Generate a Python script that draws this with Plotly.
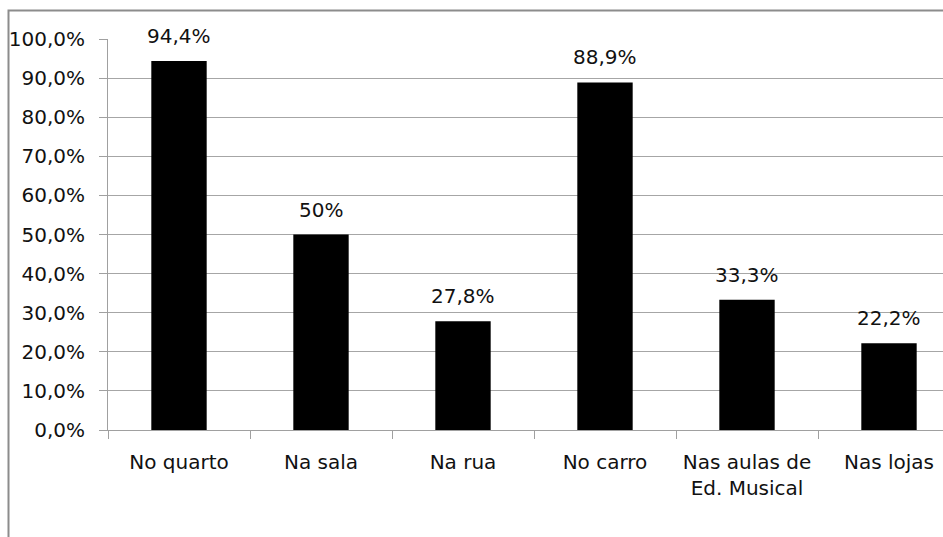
import plotly.graph_objects as go

# Where students listen to music (percent of respondents)
categories = ["No quarto", "Na sala", "Na rua", "No carro",
              "Nas aulas de<br>Ed. Musical", "Nas lojas"]
values = [94.4, 50, 27.8, 88.9, 33.3, 22.2]
value_labels = ["94,4%", "50%", "27,8%", "88,9%", "33,3%", "22,2%"]
y_ticks = [0, 10, 20, 30, 40, 50, 60, 70, 80, 90, 100]
y_tick_labels = ["0,0%", "10,0%", "20,0%", "30,0%", "40,0%", "50,0%",
                 "60,0%", "70,0%", "80,0%", "90,0%", "100,0%"]

W, H = 943, 537
ML, MR, MT, MB = 108, 0, 39, 107
plot_w = W - ML - MR
plot_h = H - MT - MB
cat_px = 142.0

font_family = "DejaVu Sans"
fsize = 20

fig = go.Figure(go.Bar(
    x=categories,
    y=values,
    marker=dict(color="black", line=dict(width=0)),
    width=0.39,
    hoverinfo="skip",
))

for cat, v, lab in zip(categories, values, value_labels):
    fig.add_annotation(
        x=cat, y=v, text=lab, showarrow=False,
        yanchor="bottom", yshift=11,
        font=dict(family=font_family, size=fsize, color="#111111"),
    )

# outer frame (top and left edges of the chart box)
px_to_xp = lambda px: (px - ML) / plot_w
py_to_yp = lambda py: (H - MB - py) / plot_h
fig.add_shape(
    type="path", xref="paper", yref="paper",
    path=f"M {px_to_xp(8.5)} {py_to_yp(H + 20)} L {px_to_xp(8.5)} {py_to_yp(10.5)} "
         f"L {px_to_xp(W + 20)} {py_to_yp(10.5)}",
    line=dict(color="#8c8c8c", width=2),
)

fig.update_layout(
    width=W, height=H,
    margin=dict(l=ML, r=MR, t=MT, b=MB, pad=0),
    paper_bgcolor="white", plot_bgcolor="white",
    showlegend=False,
    font=dict(family=font_family, size=fsize, color="#111111"),
    xaxis=dict(
        type="category",
        range=[-0.5, -0.5 + plot_w / cat_px],
        showline=True, linecolor="#a0a0a0", linewidth=1,
        ticks="outside", tickson="boundaries", ticklen=8,
        tickcolor="#a0a0a0", tickwidth=1,
        showgrid=False, zeroline=False,
        ticklabelstandoff=14,
        tickfont=dict(family=font_family, size=fsize, color="#111111"),
    ),
    yaxis=dict(
        range=[0, 100],
        tickmode="array",
        tickvals=y_ticks,
        ticktext=y_tick_labels,
        showline=True, linecolor="#a0a0a0", linewidth=1,
        ticks="outside", ticklen=8, tickcolor="#a0a0a0", tickwidth=1,
        showgrid=True, gridcolor="#a6a6a6", gridwidth=1,
        zeroline=False,
        ticklabelstandoff=10,
        tickfont=dict(family=font_family, size=fsize, color="#111111"),
    ),
)

fig.write_html("out.html")
